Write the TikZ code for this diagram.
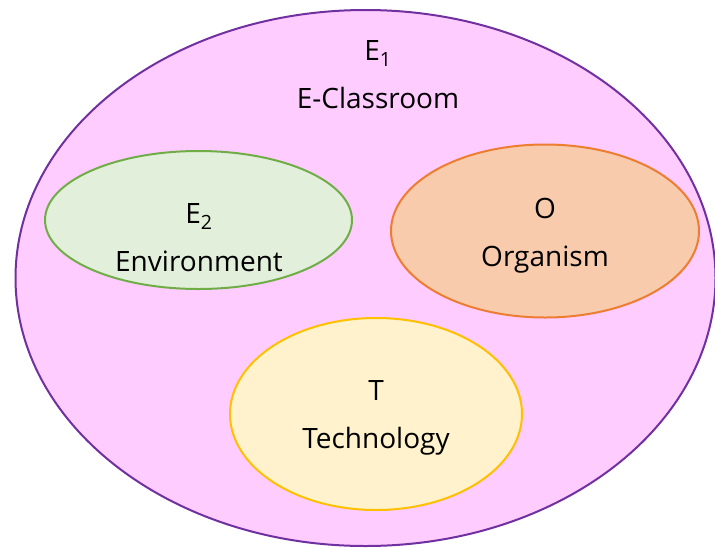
\documentclass[tikz,border=0pt]{standalone}
\usepackage{fontspec}
\setmainfont{Open Sans}
\usetikzlibrary{positioning, shapes.geometric}
\definecolor{classfill}{HTML}{FFCCFF}
\definecolor{classline}{HTML}{7030A0}
\definecolor{envfill}{HTML}{E2EFDA}
\definecolor{envline}{HTML}{70AD47}
\definecolor{orgfill}{HTML}{F8CBAD}
\definecolor{orgline}{HTML}{ED7D31}
\definecolor{techfill}{HTML}{FFF2CC}
\definecolor{techline}{HTML}{FFC000}
\tikzset{
    set/.style={
        ellipse, draw, line width = 2pt,
        inner sep = 0pt
    },
    caption/.style = {
        align = center,
        font = \fontsize{28}{48}\selectfont
    }
}

\begin{document}
\begin{tikzpicture}[x = 1pt, y = -1pt]

    \useasboundingbox (0,0) rectangle (715,547);

    % outer set
    \node[set, fill = classfill, draw = classline,
        minimum width = 700pt, minimum height = 536pt] (classroom) at (365.5,278) {};
    \node[caption] (classroomtext) at (378,75) {E\textsubscript{1}\\E-Classroom};

    \node[set, fill = envfill, draw = envline,
        minimum width = 307pt, minimum height = 138pt] (env) at (198.5,220) {};
    \node[caption] (envtext) at (199,238) {E\textsubscript{2}\\Environment};

    \node[set, fill = orgfill, draw = orgline,
        minimum width = 308pt, minimum height = 173pt] (org) at (545,231) {};
    \node[caption] (orgtext) at (545,236) {O\\Organism};

    \node[set, fill = techfill, draw = techline,
        minimum width = 292pt, minimum height = 192pt] (tech) at (376,414) {};
    \node[caption] (techtext) at (376,418) {T\\Technology};

\end{tikzpicture}
\end{document}
